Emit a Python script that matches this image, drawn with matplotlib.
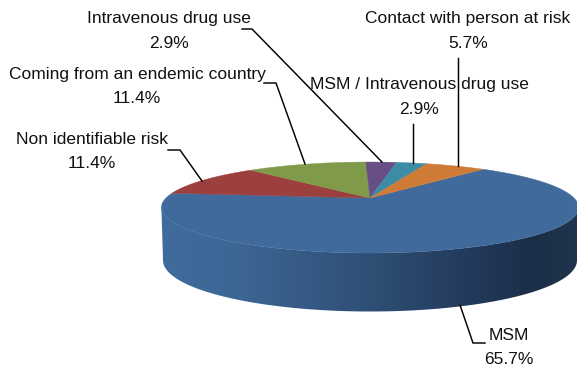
import numpy as np
import matplotlib
matplotlib.use("Agg")
import matplotlib.pyplot as plt
from matplotlib.patches import Polygon
from matplotlib.colors import LinearSegmentedColormap

categories = ["MSM", "Non identifiable risk", "Coming from an endemic country",
              "Intravenous drug use", "MSM / Intravenous drug use", "Contact with person at risk"]
values = [65.7, 11.4, 11.4, 2.9, 2.9, 5.7]
colors = ["#406a9b", "#9b403e", "#7f9a48", "#674f85", "#3d8ca6", "#ce7b37"]

label_pos = [(509, 335), (92, 139), (137, 74), (169, 19), (419, 85), (468, 19)]
leaders = [
    [(460, 305), (473, 343), (485, 343)],
    [(168, 150), (180, 150), (202, 181)],
    [(264, 83), (276, 83), (305, 164)],
    [(242, 29), (252, 29), (382, 162)],
    [(413, 124), (413, 163)],
    [(458, 58), (458, 166)],
]

plt.rcParams["font.family"] = ["Liberation Sans", "DejaVu Sans"]
fig = plt.figure(figsize=(5.77, 3.69), dpi=100)
ax = fig.add_axes([0, 0, 1, 1])
ax.set_xlim(0, 577)
ax.set_ylim(369, 0)
ax.axis("off")

K = 0.209


def project(t_deg, y0, R, S):
    t = np.radians(t_deg)
    d = 1 + K * np.sin(t)
    return np.column_stack([370 + R * np.cos(t) / d, y0 - S * np.sin(t) / d])


TOP = (198, 204, 43.5)
BOT = (249.8, 202.4, 48.8)

# side wall
a = np.linspace(192, 348, 240)
wall = np.vstack([project(a, *TOP), project(a[::-1], *BOT)])
cmap = LinearSegmentedColormap.from_list("side", [
    (0, "#3f6b9e"), (0.18, "#3c6694"), (0.5, "#2f4f75"),
    (0.75, "#22395a"), (0.9, "#1b2e47"), (1, "#20354d")])
im = ax.imshow(np.linspace(0, 1, 256)[None, :], extent=(161, 579, 369, 0),
               cmap=cmap, aspect="auto", zorder=1)
ax.set_xlim(0, 577)
ax.set_ylim(369, 0)
im.set_clip_path(Polygon(wall, closed=True, transform=ax.transData))

# top face
angle = 50.0
for v, c in zip(values, colors):
    sweep = v / sum(values) * 360
    arc = project(np.linspace(angle, angle - sweep, 200), *TOP)
    pts = np.vstack([[370, 198], arc])
    ax.add_patch(Polygon(pts, closed=True, fc=c, ec=c, lw=0.3, zorder=2))
    angle -= sweep

# leaders and labels
for cat, v, (x, y), line in zip(categories, values, label_pos, leaders):
    xs, ys = zip(*line)
    ax.plot(xs, ys, color="black", lw=1.05, zorder=3, solid_joinstyle="miter")
    ax.text(x, y, cat, ha="center", va="center", fontsize=12.5, color="#111111", zorder=4)
    ax.text(x, y + 24.5, f"{v:.1f}%", ha="center", va="center", fontsize=12.5, color="#111111", zorder=4)

fig.savefig("out.png", dpi=100)
